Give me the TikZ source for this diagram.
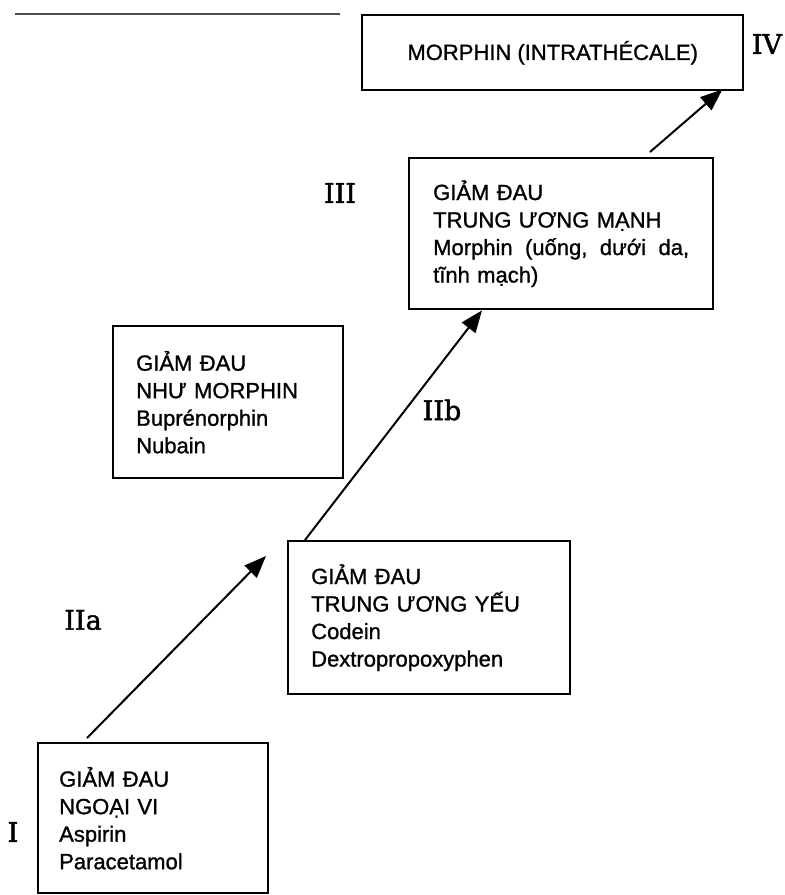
\documentclass[tikz,border=0pt]{standalone}
\usepackage{fontspec}
\setmainfont[FakeBold=1]{Liberation Sans}
\newfontfamily\boxfont[FakeBold=1.1]{Liberation Sans}
\newfontfamily\lblfont[FakeBold=1.6]{DejaVu Serif}
\usetikzlibrary{arrows.meta}
\begin{document}
\begin{tikzpicture}[x=1pt,y=-1pt,
  box/.style={draw=black, line width=2.4pt, anchor=north west, inner ysep=0pt,
    align=left, font=\boxfont\fontsize{22}{27.5}\selectfont},
  lbl/.style={font=\lblfont\fontsize{27}{30}\selectfont, inner sep=0pt},
  arr/.style={line width=2pt, -{Triangle[length=22pt,width=17pt]}}
]
\useasboundingbox (0,0) rectangle (785,895);
% scan line at top left
\coordinate (s1) at (15,14);
\coordinate (s2) at (340,14);
\draw[line width=2.4pt, black!70] (s1) -- (s2);

\node[box, inner xsep=21pt, text width=188pt, minimum height=150pt] (b1) at (37,742)
  {GIẢM ĐAU\\NGOẠI VI\\Aspirin\\Paracetamol};
\node[box, inner xsep=23pt, text width=236pt, minimum height=153pt] (b2) at (287,540)
  {GIẢM ĐAU\\TRUNG ƯƠNG YẾU\\Codein\\Dextropropoxyphen};
\node[box, inner xsep=23pt, text width=184pt, minimum height=152pt] (bn) at (112,325)
  {GIẢM ĐAU\\NHƯ MORPHIN\\Buprénorphin\\Nubain};
\node[box, inner xsep=24pt, text width=256pt, minimum height=151pt] (b3) at (408,157)
  {GIẢM ĐAU\\TRUNG ƯƠNG MẠNH\\\leavevmode\hbox to 256pt{Morphin\hfill(uống,\hfill dưới\hfill da,}\\tĩnh mạch)};
\node[box, inner xsep=0pt, minimum width=381pt, minimum height=75pt, align=center] (b4) at (361,14)
  {MORPHIN (INTRATHÉCALE)};

\node[lbl] (l4) at (767,44) {IV};
\node[lbl] (l3) at (340,193) {III};
\node[lbl] (l2b) at (442,410) {IIb};
\node[lbl] (l2a) at (83,620) {IIa};
\node[lbl] (l1) at (13,832) {I};

\draw[arr] ([xshift=50pt,yshift=4pt]b1.north west) -- ([xshift=-21pt,yshift=-16pt]b2.north west);
\draw[arr] ([xshift=18pt]b2.north west) -- ([xshift=74pt]b3.south west);
\draw[arr] ([xshift=242pt,yshift=5pt]b3.north west) -- ([xshift=-22pt,yshift=2pt]b4.south east);
\end{tikzpicture}
\end{document}
